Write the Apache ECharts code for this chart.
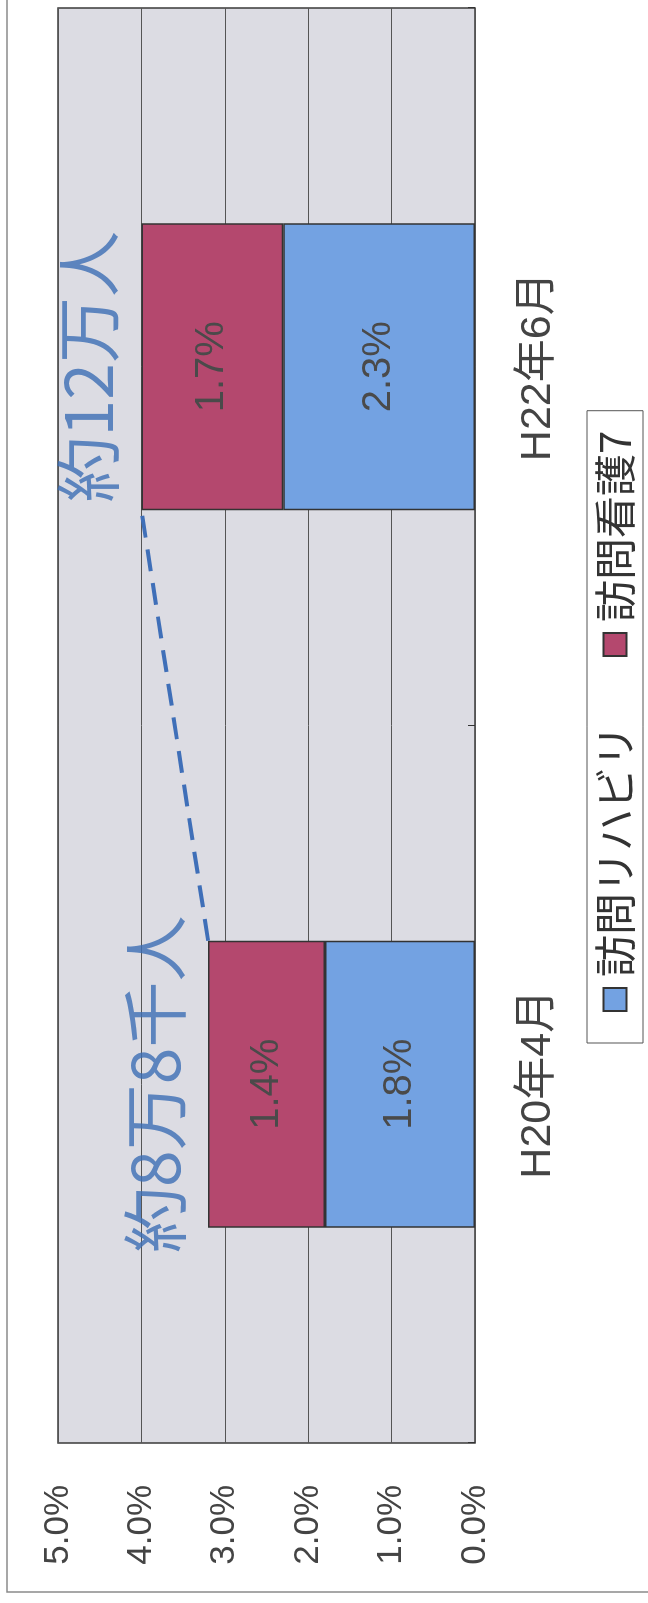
<!DOCTYPE html>
<html><head><meta charset="utf-8">
<script src="https://cdn.jsdelivr.net/npm/echarts@6/dist/echarts.min.js"></script>
<style>
html,body{margin:0;padding:0;width:648px;height:1603px;overflow:hidden;background:#fff;}
#chart{position:absolute;left:0;top:0;width:1603px;height:648px;transform-origin:0 0;transform:translateY(1603px) rotate(-90deg);}
</style></head><body><div id="chart"></div>
<script>
// ---- data ----
const categories = ['H20年4月', 'H22年6月'];
const seriesNames = ['訪問リハビリ', '訪問看護7'];
const rehab = [1.8, 2.3];     // 訪問リハビリ
const nursing = [1.4, 1.7];   // 訪問看護7
const annotations = ['約8万8千人', '約12万人'];
const valueMin = 0, valueMax = 5, valueStep = 1;

// ---- derived ----
const totals = rehab.map((v, i) => +(v + nursing[i]).toFixed(1));
const seriesLineData = [];
for (let i = 0; i + 1 < totals.length; i++) seriesLineData.push([i, totals[i], i + 1, totals[i + 1]]);

const LATIN = '"Liberation Sans", "Noto Sans CJK JP", sans-serif';
const CJK = '"Noto Sans CJK JP", "Liberation Sans", sans-serif';
const BAR_W = 0.40;

const chart = echarts.init(document.getElementById('chart'), null, {width: 1603, height: 648, renderer: 'canvas'});
chart.setOption({
  animation: false,
  backgroundColor: '#ffffff',
  graphic: [{
    type: 'rect', z: -10, silent: true,
    shape: {x: 11, y: 7, width: 1700, height: 700},
    style: {fill: 'none', stroke: '#8a8a8a', lineWidth: 1.5}
  }],
  grid: {
    left: 160, right: 8, top: 58, bottom: 173,
    show: true, backgroundColor: '#dcdce3', borderColor: '#3a3a3a', borderWidth: 1.5
  },
  legend: {
    data: seriesNames,
    left: 560, top: 587,
    orient: 'horizontal',
    selectedMode: false,
    itemWidth: 23, itemHeight: 23, itemGap: 68,
    padding: [7, 20, 7, 31],
    borderColor: '#555', borderWidth: 1,
    icon: 'rect',
    textStyle: {fontFamily: CJK, fontSize: 42, color: '#333', padding: [0, 0, 0, 6]}
  },
  xAxis: {
    type: 'category',
    data: categories,
    axisLine: {show: false},
    axisTick: {show: true, inside: true, length: 7, lineStyle: {color: '#333'}},
    axisLabel: {margin: 42, fontSize: 43, fontFamily: LATIN, color: '#444'},
    splitLine: {show: false}
  },
  yAxis: {
    type: 'value',
    min: valueMin, max: valueMax, interval: valueStep,
    axisLine: {show: false},
    axisTick: {show: false},
    axisLabel: {margin: 42, fontSize: 35, fontFamily: LATIN, color: '#444',
      formatter: v => v.toFixed(1) + '%'},
    splitLine: {show: true, lineStyle: {color: '#555', width: 1}}
  },
  series: [
    {
      name: seriesNames[0], type: 'bar', stack: 'total', barWidth: (BAR_W * 100) + '%',
      data: rehab,
      itemStyle: {color: '#73a2e2', borderColor: '#333', borderWidth: 1.5},
      label: {show: true, position: 'inside', fontSize: 40, fontFamily: LATIN, color: '#4a4a4a',
        formatter: p => p.value.toFixed(1) + '%'}
    },
    {
      name: seriesNames[1], type: 'bar', stack: 'total', barWidth: (BAR_W * 100) + '%',
      data: nursing,
      itemStyle: {color: '#b4486e', borderColor: '#333', borderWidth: 1.5},
      label: {show: true, position: 'inside', fontSize: 40, fontFamily: LATIN, color: '#4a4a4a',
        formatter: p => p.value.toFixed(1) + '%'}
    },
    {
      name: 'seriesLine', type: 'custom', z: 5,
      data: seriesLineData,
      renderItem: function (params, api) {
        const p0 = api.coord([api.value(0), api.value(1)]);
        const p1 = api.coord([api.value(2), api.value(3)]);
        const bw = api.size([1, 0])[0] * BAR_W;
        return {
          type: 'line',
          shape: {x1: p0[0] + bw / 2, y1: p0[1], x2: p1[0] - bw / 2, y2: p1[1]},
          style: {stroke: '#3f6fb8', lineWidth: 4, lineDash: [22, 12], fill: null}
        };
      }
    },
    {
      name: 'annotations', type: 'scatter', z: 6,
      data: totals,
      symbolSize: 1,
      itemStyle: {color: 'rgba(0,0,0,0)'},
      label: {show: true, position: 'top', distance: 20,
        formatter: p => annotations[p.dataIndex],
        fontSize: 66, fontFamily: CJK, color: '#3c6eb4'}
    }
  ]
});
</script></body></html>
